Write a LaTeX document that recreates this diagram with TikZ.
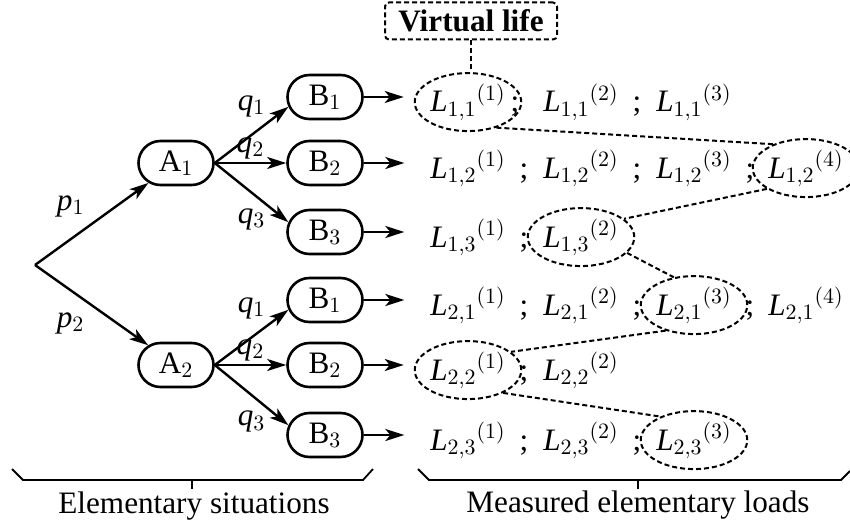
\documentclass[tikz,border=0pt]{standalone}
\usepackage{fontspec}
\setmainfont{Liberation Serif}
\usetikzlibrary{shapes.misc,shapes.geometric,arrows.meta}
\newcommand{\Lterm}[3]{${\mathit{L}_{#1,#2}}^{(#3)}$}
\tikzstyle{situation}=[rounded rectangle, draw, line width=1.3pt, minimum width=37.5pt, minimum height=22pt, inner sep=0pt]
\tikzstyle{loadterm}=[ellipse, minimum width=50pt, minimum height=29pt, inner sep=0pt, anchor=base]
\tikzstyle{picked}=[draw, line width=1pt, dash pattern=on 2.5pt off 1.5pt]
\tikzstyle{semi}=[inner sep=0pt, anchor=base]
\tikzstyle{weight}=[inner sep=0pt]
\tikzstyle{branch}=[-{Stealth[length=9.5pt,width=6pt,inset=2.5pt]}, line width=1.2pt]
\tikzstyle{link}=[line width=1pt, dash pattern=on 2.5pt off 1.5pt]

\begin{document}
\begin{tikzpicture}[x=0.5pt, y=-0.5pt, font=\fontsize{15.6}{19}\selectfont]
\useasboundingbox (0,0) rectangle (850,524);
% Situations
    \coordinate (root) at (35,265);
    \node[situation] (A1) at (176,163) {A$_1$};
    \node[situation] (A2) at (176,365) {A$_2$};
    \node[situation] (B11) at (325,97) {B$_1$};
    \node[situation] (B12) at (325,163) {B$_2$};
    \node[situation] (B13) at (325,232) {B$_3$};
    \node[situation] (B21) at (325,300) {B$_1$};
    \node[situation] (B22) at (325,365) {B$_2$};
    \node[situation] (B23) at (325,435) {B$_3$};
    \draw[branch] (root) -- (A1) node[weight, midway, above left=3pt] (p1) {$\mathit{p}_1$};
    \draw[branch] (root) -- (A2) node[weight, midway, below left=3pt] (p2) {$\mathit{p}_2$};
    \draw[branch] (A1.east) -- (B11.195) node[weight, midway, above=8.5pt] (q11) {$\mathit{q}_1$};
    \draw[branch] (A1.east) -- (B12.west) node[weight, midway, above=1.5pt] (q12) {$\mathit{q}_2$};
    \draw[branch] (A1.east) -- (B13.165) node[weight, midway, below=7.5pt] (q13) {$\mathit{q}_3$};
    \draw[branch] (A2.east) -- (B21.195) node[weight, midway, above=8.5pt] (q21) {$\mathit{q}_1$};
    \draw[branch] (A2.east) -- (B22.west) node[weight, midway, above=1.5pt] (q22) {$\mathit{q}_2$};
    \draw[branch] (A2.east) -- (B23.165) node[weight, midway, below=7.5pt] (q23) {$\mathit{q}_3$};
% Measured loads
    \node[loadterm, picked] (l111) at (468,112) {\Lterm{1}{1}{1}};
    \node[semi] (s111) at (515,112) {;};
    \node[loadterm] (l112) at (581,112) {\Lterm{1}{1}{2}};
    \node[semi] (s112) at (637,112) {;};
    \node[loadterm] (l113) at (694,112) {\Lterm{1}{1}{3}};
    \node[loadterm] (l121) at (468,178) {\Lterm{1}{2}{1}};
    \node[semi] (s121) at (524,178) {;};
    \node[loadterm] (l122) at (581,178) {\Lterm{1}{2}{2}};
    \node[semi] (s122) at (637,178) {;};
    \node[loadterm] (l123) at (694,178) {\Lterm{1}{2}{3}};
    \node[semi] (s123) at (750,178) {;};
    \node[loadterm, picked] (l124) at (806,178) {\Lterm{1}{2}{4}};
    \node[loadterm] (l131) at (468,247) {\Lterm{1}{3}{1}};
    \node[semi] (s131) at (524,247) {;};
    \node[loadterm, picked] (l132) at (581,247) {\Lterm{1}{3}{2}};
    \node[loadterm] (l211) at (468,315) {\Lterm{2}{1}{1}};
    \node[semi] (s211) at (524,315) {;};
    \node[loadterm] (l212) at (581,315) {\Lterm{2}{1}{2}};
    \node[semi] (s212) at (637,315) {;};
    \node[loadterm, picked] (l213) at (694,315) {\Lterm{2}{1}{3}};
    \node[semi] (s213) at (750,315) {;};
    \node[loadterm] (l214) at (806,315) {\Lterm{2}{1}{4}};
    \node[loadterm, picked] (l221) at (468,380) {\Lterm{2}{2}{1}};
    \node[semi] (s221) at (524,380) {;};
    \node[loadterm] (l222) at (581,380) {\Lterm{2}{2}{2}};
    \node[loadterm] (l231) at (468,450) {\Lterm{2}{3}{1}};
    \node[semi] (s231) at (524,450) {;};
    \node[loadterm] (l232) at (581,450) {\Lterm{2}{3}{2}};
    \node[semi] (s232) at (637,450) {;};
    \node[loadterm, picked] (l233) at (694,450) {\Lterm{2}{3}{3}};
    \draw[branch, shorten >=5pt] (B11.east) -- (B11.east -| l111.west);
    \draw[branch, shorten >=5pt] (B12.east) -- (B12.east -| l121.west);
    \draw[branch, shorten >=5pt] (B13.east) -- (B13.east -| l131.west);
    \draw[branch, shorten >=5pt] (B21.east) -- (B21.east -| l211.west);
    \draw[branch, shorten >=5pt] (B22.east) -- (B22.east -| l221.west);
    \draw[branch, shorten >=5pt] (B23.east) -- (B23.east -| l231.west);
% Virtual life
    \node[picked, rounded corners=2pt, minimum width=86pt, minimum height=18.5pt, inner sep=0pt] (life) at (471,21) {\textbf{Virtual life}};
    \draw[link] (life.south) -- (life.south |- l111.north);
    \draw[link] (l111.-42) -- (l124.144);
    \draw[link] (l124.-152) -- (l132.23);
    \draw[link] (l132.-19) -- (l213.126);
    \draw[link] (l213.-138) -- (l221.23);
    \draw[link] (l221.-33) -- (l233.145);
% Braces
    \draw[line width=0.9pt] (12,469) -- (23,480) -- (363,480) -- (373,469);
    \draw[line width=0.9pt] (192,480) -- (192,489);
    \node[anchor=base] (sitlabel) at (194,513) {Elementary situations};
    \draw[line width=0.9pt] (418,469) -- (429,480) -- (841,480) -- (850,471);
    \draw[line width=0.9pt] (638,480) -- (638,489);
    \node[anchor=base] (loadlabel) at (638,512) {Measured elementary loads};
\end{tikzpicture}
\end{document}
